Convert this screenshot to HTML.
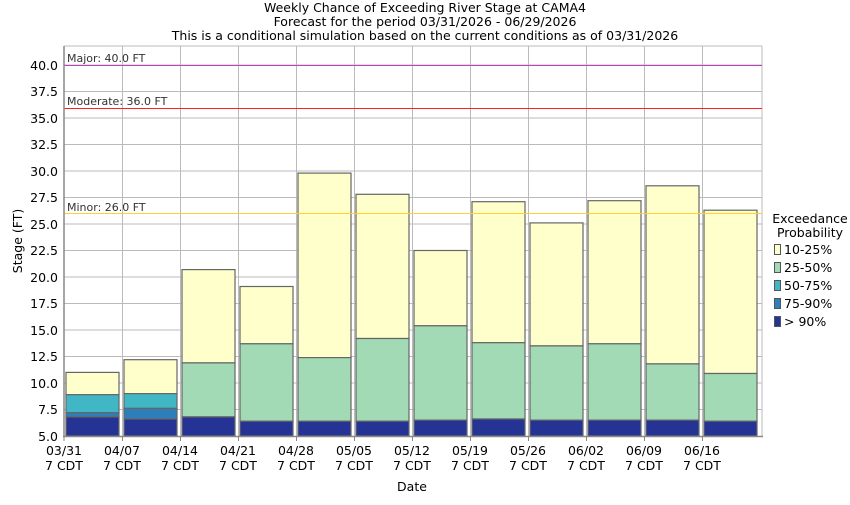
<!DOCTYPE html>
<html><head><meta charset="utf-8"><style>
body{margin:0;background:#fff;}
svg text{font-family:"DejaVu Sans","Liberation Sans",sans-serif;}
</style></head><body>
<svg width="850" height="500" xmlns="http://www.w3.org/2000/svg">
<rect width="850" height="500" fill="#fff"/>
<g font-size="12.5" text-anchor="middle" fill="#000">
<text x="425" y="12">Weekly Chance of Exceeding River Stage at CAMA4</text>
<text x="425" y="26">Forecast for the period 03/31/2026 - 06/29/2026</text>
<text x="425" y="40">This is a conditional simulation based on the current conditions as of 03/31/2026</text>
</g>
<g stroke="#bbb" stroke-width="1">
<line x1="64" x2="762" y1="409.5" y2="409.5"/><line x1="64" x2="762" y1="383" y2="383"/>
<line x1="64" x2="762" y1="356.5" y2="356.5"/><line x1="64" x2="762" y1="330" y2="330"/>
<line x1="64" x2="762" y1="303.5" y2="303.5"/><line x1="64" x2="762" y1="277" y2="277"/>
<line x1="64" x2="762" y1="250.5" y2="250.5"/><line x1="64" x2="762" y1="224" y2="224"/>
<line x1="64" x2="762" y1="197.5" y2="197.5"/><line x1="64" x2="762" y1="171" y2="171"/>
<line x1="64" x2="762" y1="144.5" y2="144.5"/><line x1="64" x2="762" y1="118" y2="118"/>
<line x1="64" x2="762" y1="91.5" y2="91.5"/><line x1="64" x2="762" y1="65" y2="65"/>
<line y1="46" y2="436" x1="122.5" x2="122.5"/><line y1="46" y2="436" x1="180.5" x2="180.5"/>
<line y1="46" y2="436" x1="238.5" x2="238.5"/><line y1="46" y2="436" x1="296.5" x2="296.5"/>
<line y1="46" y2="436" x1="354.5" x2="354.5"/><line y1="46" y2="436" x1="412.5" x2="412.5"/>
<line y1="46" y2="436" x1="470.5" x2="470.5"/><line y1="46" y2="436" x1="528.5" x2="528.5"/>
<line y1="46" y2="436" x1="586.5" x2="586.5"/><line y1="46" y2="436" x1="644.5" x2="644.5"/>
<line y1="46" y2="436" x1="702.5" x2="702.5"/><line y1="46" y2="436" x1="762" x2="762"/>
<line y1="46" y2="46" x1="64" x2="762"/>
</g>
<g stroke="#666" stroke-width="1.2">
<rect x="66" y="372.4" width="53" height="22.3" fill="#ffffcc"/>
<rect x="66" y="394.7" width="53" height="18" fill="#41b6c4"/>
<rect x="66" y="412.7" width="53" height="4.2" fill="#2c7fb8"/>
<rect x="66" y="416.9" width="53" height="19.1" fill="#253494"/>
<rect x="124" y="359.7" width="53" height="33.9" fill="#ffffcc"/>
<rect x="124" y="393.6" width="53" height="14.8" fill="#41b6c4"/>
<rect x="124" y="408.4" width="53" height="10.6" fill="#2c7fb8"/>
<rect x="124" y="419" width="53" height="17" fill="#253494"/>
<rect x="182" y="269.6" width="53" height="93.3" fill="#ffffcc"/>
<rect x="182" y="362.9" width="53" height="54" fill="#a1dab4"/>
<rect x="182" y="416.9" width="53" height="19.1" fill="#253494"/>
<rect x="240" y="286.5" width="53" height="57.3" fill="#ffffcc"/>
<rect x="240" y="343.8" width="53" height="77.4" fill="#a1dab4"/>
<rect x="240" y="421.2" width="53" height="14.8" fill="#253494"/>
<rect x="298" y="173.1" width="53" height="184.5" fill="#ffffcc"/>
<rect x="298" y="357.6" width="53" height="63.6" fill="#a1dab4"/>
<rect x="298" y="421.2" width="53" height="14.8" fill="#253494"/>
<rect x="356" y="194.3" width="53" height="144.2" fill="#ffffcc"/>
<rect x="356" y="338.5" width="53" height="82.7" fill="#a1dab4"/>
<rect x="356" y="421.2" width="53" height="14.8" fill="#253494"/>
<rect x="414" y="250.5" width="53" height="75.3" fill="#ffffcc"/>
<rect x="414" y="325.8" width="53" height="94.3" fill="#a1dab4"/>
<rect x="414" y="420.1" width="53" height="15.9" fill="#253494"/>
<rect x="472" y="201.7" width="53" height="141" fill="#ffffcc"/>
<rect x="472" y="342.7" width="53" height="76.3" fill="#a1dab4"/>
<rect x="472" y="419" width="53" height="17" fill="#253494"/>
<rect x="530" y="222.9" width="53" height="123" fill="#ffffcc"/>
<rect x="530" y="345.9" width="53" height="74.2" fill="#a1dab4"/>
<rect x="530" y="420.1" width="53" height="15.9" fill="#253494"/>
<rect x="588" y="200.7" width="53" height="143.1" fill="#ffffcc"/>
<rect x="588" y="343.8" width="53" height="76.3" fill="#a1dab4"/>
<rect x="588" y="420.1" width="53" height="15.9" fill="#253494"/>
<rect x="646" y="185.8" width="53" height="178.1" fill="#ffffcc"/>
<rect x="646" y="363.9" width="53" height="56.2" fill="#a1dab4"/>
<rect x="646" y="420.1" width="53" height="15.9" fill="#253494"/>
<rect x="704" y="210.2" width="53" height="163.3" fill="#ffffcc"/>
<rect x="704" y="373.5" width="53" height="47.7" fill="#a1dab4"/>
<rect x="704" y="421.2" width="53" height="14.8" fill="#253494"/>
</g>
<line x1="64" x2="762" y1="65.5" y2="65.5" stroke="#c040c0" stroke-width="1"/>
<line x1="64" x2="762" y1="108.5" y2="108.5" stroke="#ff2020" stroke-width="1"/>
<line x1="64" x2="762" y1="213.5" y2="213.5" stroke="#ffd030" stroke-width="1"/>
<g font-size="11" fill="#333">
<text x="67" y="62">Major: 40.0 FT</text>
<text x="67" y="105">Moderate: 36.0 FT</text>
<text x="67" y="211">Minor: 26.0 FT</text>
</g>
<g stroke="#888" stroke-width="1.5">
<line x1="64" x2="64" y1="46" y2="437"/>
<line x1="63" x2="763" y1="436.5" y2="436.5"/>
</g>
<g stroke="#888" stroke-width="1">
<line x1="122.5" x2="122.5" y1="436" y2="441"/><line x1="180.5" x2="180.5" y1="436" y2="441"/>
<line x1="238.5" x2="238.5" y1="436" y2="441"/><line x1="296.5" x2="296.5" y1="436" y2="441"/>
<line x1="354.5" x2="354.5" y1="436" y2="441"/><line x1="412.5" x2="412.5" y1="436" y2="441"/>
<line x1="470.5" x2="470.5" y1="436" y2="441"/><line x1="528.5" x2="528.5" y1="436" y2="441"/>
<line x1="586.5" x2="586.5" y1="436" y2="441"/><line x1="644.5" x2="644.5" y1="436" y2="441"/>
<line x1="702.5" x2="702.5" y1="436" y2="441"/><line x1="64" x2="64" y1="436" y2="441"/>
</g>
<g font-size="12.5" text-anchor="end" fill="#000">
<text x="58" y="441">5.0</text><text x="58" y="414">7.5</text><text x="58" y="388">10.0</text>
<text x="58" y="361">12.5</text><text x="58" y="335">15.0</text><text x="58" y="308">17.5</text>
<text x="58" y="282">20.0</text><text x="58" y="255">22.5</text><text x="58" y="229">25.0</text>
<text x="58" y="202">27.5</text><text x="58" y="176">30.0</text><text x="58" y="149">32.5</text>
<text x="58" y="123">35.0</text><text x="58" y="96">37.5</text><text x="58" y="70">40.0</text>
</g>
<g font-size="12.5" text-anchor="middle" fill="#000">
<text x="64" y="455">03/31</text><text x="64" y="470">7 CDT</text>
<text x="122" y="455">04/07</text><text x="122" y="470">7 CDT</text>
<text x="180" y="455">04/14</text><text x="180" y="470">7 CDT</text>
<text x="238" y="455">04/21</text><text x="238" y="470">7 CDT</text>
<text x="296" y="455">04/28</text><text x="296" y="470">7 CDT</text>
<text x="354" y="455">05/05</text><text x="354" y="470">7 CDT</text>
<text x="412" y="455">05/12</text><text x="412" y="470">7 CDT</text>
<text x="470" y="455">05/19</text><text x="470" y="470">7 CDT</text>
<text x="528" y="455">05/26</text><text x="528" y="470">7 CDT</text>
<text x="586" y="455">06/02</text><text x="586" y="470">7 CDT</text>
<text x="644" y="455">06/09</text><text x="644" y="470">7 CDT</text>
<text x="702" y="455">06/16</text><text x="702" y="470">7 CDT</text>
<text x="412" y="491">Date</text>
<text transform="translate(22,241) rotate(-90)">Stage (FT)</text>
<text x="810" y="223">Exceedance</text>
<text x="810" y="237">Probability</text>
</g>
<g stroke="#555" stroke-width="1">
<rect x="774.5" y="244.5" width="6" height="10" fill="#ffffcc"/>
<rect x="774.5" y="262.5" width="6" height="10" fill="#a1dab4"/>
<rect x="774.5" y="280.5" width="6" height="10" fill="#41b6c4"/>
<rect x="774.5" y="298.5" width="6" height="10" fill="#2c7fb8"/>
<rect x="774.5" y="316.5" width="6" height="10" fill="#253494"/>
</g>
<g font-size="12.5" fill="#000">
<text x="784" y="254">10-25%</text>
<text x="784" y="272">25-50%</text>
<text x="784" y="290">50-75%</text>
<text x="784" y="308">75-90%</text>
<text x="784" y="326">&gt; 90%</text>
</g>
</svg>
</body></html>
